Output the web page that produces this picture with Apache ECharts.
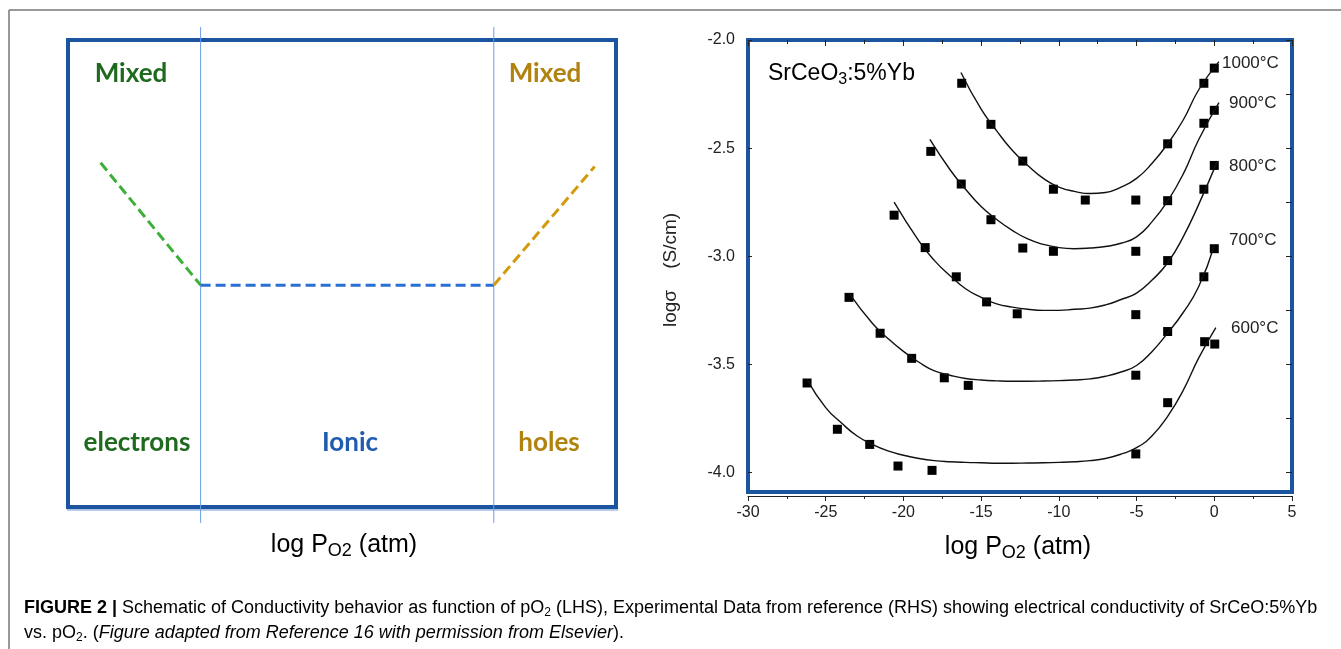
<!DOCTYPE html>
<html>
<head>
<meta charset="utf-8">
<script src="https://cdn.jsdelivr.net/npm/echarts@6/dist/echarts.min.js"></script>
<style>
  html, body { margin: 0; padding: 0; background: #fff; }
  #main { width: 1341px; height: 649px; }
</style>
</head>
<body>
<div id="main"></div>
<script>
// 左：示意图（0..100 抽象坐标）；右：SrCeO3:5%Yb 电导率 vs log pO2
const regionBounds = [24.2, 77.7];               // 两条细竖线的位置
const dashElectrons = [[5.95, 73.7], [24.2, 47.5]];
const dashIonic = [[24.2, 47.5], [77.7, 47.5]];
const dashHoles = [[77.7, 47.5], [96.1, 72.9]];

const temps = ["1000°C", "900°C", "800°C", "700°C", "600°C"];
const yLabelValues = [-4.0, -3.5, -3.0, -2.5, -2.0];
const yRightTicks = [-4.0, -3.75, -3.5, -3.25, -3.0, -2.75, -2.5, -2.25, -2.0];

// 实测点
const pts1000 = [[-16.25, -2.20], [-14.37, -2.39], [-12.32, -2.56], [-10.35, -2.69], [-8.3, -2.74], [-5.05, -2.74], [-3.0, -2.48], [-0.67, -2.20], [0.0, -2.13]];
const pts900 = [[-18.24, -2.515], [-16.28, -2.666], [-14.37, -2.831], [-12.32, -2.962], [-10.35, -2.977], [-5.05, -2.977], [-3.0, -2.743], [-0.67, -2.385], [0.0, -2.325]];
const pts800 = [[-20.6, -2.81], [-18.6, -2.96], [-16.6, -3.095], [-14.65, -3.211], [-12.68, -3.266], [-5.05, -3.27], [-3.0, -3.02], [-0.67, -2.69], [0.0, -2.58]];
const pts700 = [[-23.5, -3.19], [-21.5, -3.356], [-19.47, -3.472], [-17.37, -3.562], [-15.83, -3.597], [-5.05, -3.55], [-3.0, -3.348], [-0.67, -3.095], [0.0, -2.965]];
const pts600 = [[-26.2, -3.586], [-24.25, -3.80], [-22.17, -3.87], [-20.35, -3.97], [-18.16, -3.99], [-5.05, -3.914], [-3.0, -3.677], [-0.62, -3.395], [0.03, -3.406]];

// 拟合曲线
const fit1000 = [[-16.3, -2.15], [-15, -2.32], [-14, -2.42], [-13, -2.51], [-12, -2.58], [-11, -2.64], [-10, -2.68], [-9, -2.70], [-8, -2.71], [-7, -2.705], [-6, -2.68], [-5, -2.64], [-4, -2.57], [-3, -2.48], [-2, -2.37], [-1, -2.23], [0.3, -2.10]];
const fit900 = [[-18.3, -2.46], [-17, -2.60], [-16, -2.69], [-15, -2.77], [-14, -2.83], [-13, -2.88], [-12, -2.92], [-11, -2.945], [-10, -2.96], [-9, -2.965], [-8, -2.962], [-7, -2.955], [-6, -2.94], [-5, -2.91], [-4, -2.84], [-3, -2.745], [-2, -2.62], [-1, -2.46], [0.3, -2.29]];
const fit800 = [[-20.6, -2.75], [-19, -2.93], [-18, -3.02], [-17, -3.09], [-16, -3.15], [-15, -3.19], [-14, -3.22], [-13, -3.235], [-12, -3.245], [-11, -3.25], [-10, -3.25], [-9, -3.245], [-8, -3.24], [-7, -3.225], [-6, -3.2], [-5, -3.17], [-4, -3.11], [-3, -3.03], [-2, -2.91], [-1, -2.76], [0.2, -2.56]];
const fit700 = [[-23.5, -3.17], [-22, -3.31], [-21, -3.38], [-20, -3.44], [-19, -3.49], [-18, -3.53], [-17, -3.55], [-16, -3.565], [-15, -3.572], [-14, -3.576], [-13, -3.578], [-12, -3.578], [-11, -3.577], [-10, -3.575], [-9, -3.572], [-8, -3.567], [-7, -3.555], [-6, -3.535], [-5, -3.505], [-4, -3.44], [-3, -3.355], [-2, -3.26], [-1, -3.14], [0, -2.95]];
const fit600 = [[-26.2, -3.57], [-25, -3.70], [-24, -3.77], [-23, -3.83], [-22, -3.87], [-21, -3.90], [-20, -3.92], [-19, -3.935], [-18, -3.945], [-17, -3.95], [-16, -3.953], [-15, -3.955], [-14, -3.957], [-13, -3.957], [-12, -3.956], [-11, -3.955], [-10, -3.953], [-9, -3.95], [-8, -3.945], [-7, -3.935], [-6, -3.915], [-5, -3.885], [-4, -3.83], [-3, -3.74], [-2, -3.62], [-1, -3.47], [0.1, -3.33]];

const points = [pts1000, pts900, pts800, pts700, pts600];
const fits = [fit1000, fit900, fit800, fit700, fit600];
const tempLabelPos = [[1222, 63], [1229, 103], [1229, 166], [1229, 240], [1231, 328]];

const FRAME = "#1b55a0";
const SANS = "'Liberation Sans', Arial, sans-serif";
const BOLD = "Lato, 'Open Sans', sans-serif";

const chart = echarts.init(document.getElementById("main"));

const series = [];
regionBounds.forEach(x => {
  series.push({
    type: "line", xAxisIndex: 0, yAxisIndex: 0, clip: false, silent: true, showSymbol: false,
    data: [[x, -3.4], [x, 102.8]],
    lineStyle: { color: "#6a9ee6", width: 1 },
  });
});
[[dashElectrons, "#3daf3a"], [dashIonic, "#2a6fd2"], [dashHoles, "#d39a0c"]].forEach(([d, c]) => {
  series.push({
    type: "line", xAxisIndex: 0, yAxisIndex: 0, showSymbol: false, data: d,
    lineStyle: { color: c, width: 3, type: [10, 5] },
  });
});
temps.forEach((t, i) => {
  series.push({
    name: t, type: "line", xAxisIndex: 1, yAxisIndex: 1, showSymbol: false,
    smooth: 0.5, data: fits[i],
    lineStyle: { color: "#111", width: 1.4 },
  });
  series.push({
    name: t, type: "scatter", xAxisIndex: 1, yAxisIndex: 1, symbol: "rect", symbolSize: 9,
    data: points[i], itemStyle: { color: "#000", opacity: 1 },
  });
});

const texts = [
  { x: 131, y: 74, text: "Mixed", fill: "#1f6a1f" },
  { x: 545, y: 74, text: "Mixed", fill: "#b0820e" },
  { x: 137, y: 443, text: "electrons", fill: "#1f6a1f" },
  { x: 350, y: 443, text: "Ionic", fill: "#1f5cb0" },
  { x: 549, y: 443, text: "holes", fill: "#b0820e" },
].map(o => ({
  type: "text", x: o.x, y: o.y,
  style: { text: o.text, fill: o.fill, font: `bold 26px ${BOLD}`, align: "center", verticalAlign: "middle" },
}));

const subRich = (size) => ({
  a: { fontSize: size, fontFamily: SANS, color: "#222" },
  s: { fontSize: Math.round(size * 0.7), fontFamily: SANS, color: "#222", padding: [Math.round(size * 0.5), 0, 0, 0] },
});

const graphic = [
  { type: "line", shape: { x1: 9, y1: 10, x2: 1341, y2: 10 }, style: { stroke: "#777", lineWidth: 1.5 } },
  { type: "line", shape: { x1: 9, y1: 10, x2: 9, y2: 649 }, style: { stroke: "#777", lineWidth: 1.5 } },
  // 左框底边下方的浅蓝阴影
  { type: "line", z: -1, shape: { x1: 67, y1: 509.5, x2: 618, y2: 509.5 }, style: { stroke: "#a8c0e4", lineWidth: 2.5 } },
  ...texts,
  { type: "text", x: 344, y: 545, style: { text: "{a|log P}{s|O2}{a| (atm)}", rich: subRich(25), align: "center", verticalAlign: "middle" } },
  { type: "text", x: 1018, y: 547, style: { text: "{a|log P}{s|O2}{a| (atm)}", rich: subRich(25), align: "center", verticalAlign: "middle" } },
  { type: "text", x: 671, y: 270, rotation: Math.PI / 2,
    style: { text: "logσ    (S/cm)", font: `19px ${SANS}`, fill: "#222", align: "center", verticalAlign: "middle" } },
  { type: "text", x: 768, y: 74, style: { text: "{a|SrCeO}{s|3}{a|:5%Yb}", rich: subRich(23), verticalAlign: "middle" } },
  ...temps.map((t, i) => ({
    type: "text", x: tempLabelPos[i][0], y: tempLabelPos[i][1],
    style: { text: t, font: `17px ${SANS}`, fill: "#222", verticalAlign: "middle" },
  })),
  { type: "text", x: 24, y: 608, style: {
      text: "{b|FIGURE 2 |}{n| Schematic of Conductivity behavior as function of pO}{s|2}{n| (LHS), Experimental Data from reference (RHS) showing electrical conductivity of SrCeO:5%Yb}",
      rich: {
        b: { fontSize: 18, fontWeight: "bold", fontFamily: SANS, color: "#111" },
        n: { fontSize: 18, fontFamily: SANS, color: "#222" },
        s: { fontSize: 12, fontFamily: SANS, color: "#222", padding: [9, 0, 0, 0] },
      }, verticalAlign: "middle" } },
  { type: "text", x: 24, y: 633, style: {
      text: "{n|vs. pO}{s|2}{n|. (}{i|Figure adapted from Reference 16 with permission from Elsevier}{n|).}",
      rich: {
        n: { fontSize: 18, fontFamily: SANS, color: "#222" },
        i: { fontSize: 18, fontStyle: "italic", fontFamily: SANS, color: "#222" },
        s: { fontSize: 12, fontFamily: SANS, color: "#222", padding: [9, 0, 0, 0] },
      }, verticalAlign: "middle" } },
];

chart.setOption({
  animation: false,
  grid: [
    { left: 68, top: 40, width: 548, height: 467, show: true, borderColor: FRAME, borderWidth: 4 },
    { left: 748, top: 40, width: 544, height: 452, show: true, borderColor: FRAME, borderWidth: 4 },
  ],
  xAxis: [
    { gridIndex: 0, type: "value", min: 0, max: 100, show: false },
    { gridIndex: 1, type: "value", min: -30, max: 5, interval: 5, position: "bottom", offset: 4,
      axisLine: { show: true, onZero: false, lineStyle: { color: "#222", width: 1 } },
      axisTick: { show: true, inside: false, length: 5, lineStyle: { color: "#222" } },
      minorTick: { show: true, splitNumber: 2, length: 3, lineStyle: { color: "#222" } },
      axisLabel: { fontSize: 16, fontFamily: SANS, color: "#222", margin: 9 },
      splitLine: { show: false } },
    { gridIndex: 1, type: "value", min: -30, max: 5, interval: 5, position: "top",
      axisLine: { show: false, onZero: false },
      axisTick: { show: true, inside: true, length: 6, lineStyle: { color: "#222" } },
      minorTick: { show: true, splitNumber: 2, length: 4, lineStyle: { color: "#222" } },
      axisLabel: { show: false }, splitLine: { show: false } },
  ],
  yAxis: [
    { gridIndex: 0, type: "value", min: 0, max: 100, show: false },
    { gridIndex: 1, type: "value", min: -4.09, max: -2.0, position: "left",
      axisLine: { show: false, onZero: false },
      axisTick: { show: true, inside: true, length: 4, customValues: yLabelValues, lineStyle: { color: "#222" } },
      axisLabel: { fontSize: 16, fontFamily: SANS, color: "#222", margin: 13, customValues: yLabelValues,
        formatter: v => v.toFixed(1) },
      splitLine: { show: false } },
    { gridIndex: 1, type: "value", min: -4.09, max: -2.0, position: "right",
      axisLine: { show: false, onZero: false },
      axisTick: { show: true, inside: true, length: 6, customValues: yRightTicks, lineStyle: { color: "#222" } },
      axisLabel: { show: false }, splitLine: { show: false } },
  ],
  series,
  graphic,
});
window.addEventListener("resize", () => chart.resize());
</script>
</body>
</html>
